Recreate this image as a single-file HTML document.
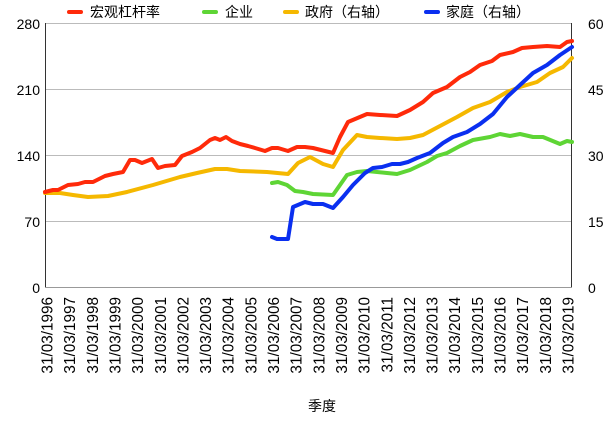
<!DOCTYPE html>
<html><head><meta charset="utf-8"><style>
body{margin:0;background:#fff}
text{font-family:"Liberation Sans","Noto Sans CJK SC",sans-serif;fill:#000}
</style></head><body>
<svg width="607" height="417" xmlns="http://www.w3.org/2000/svg">
<g stroke="#bbb" stroke-width="1">
<line x1="45" y1="23.5" x2="572" y2="23.5"/><line x1="45" y1="89.5" x2="572" y2="89.5"/>
<line x1="45" y1="155.5" x2="572" y2="155.5"/><line x1="45" y1="221.5" x2="572" y2="221.5"/>
</g>
<g stroke="#333" stroke-width="1" fill="none">
<line x1="45.5" y1="23" x2="45.5" y2="287"/><line x1="571.5" y1="23" x2="571.5" y2="287"/>
<line x1="45" y1="287.5" x2="572" y2="287.5" stroke="#999"/>
</g>
<g font-size="14" text-anchor="end">
<text x="40" y="29">280</text><text x="40" y="95">210</text><text x="40" y="161">140</text><text x="40" y="227">70</text><text x="40" y="293">0</text>
</g>
<g font-size="14" text-anchor="start">
<text x="588" y="29">60</text><text x="588" y="95">45</text><text x="588" y="161">30</text><text x="588" y="227">15</text><text x="588" y="293">0</text>
</g>
<g fill="none" stroke-width="4" stroke-linejoin="round" stroke-linecap="round">
<polyline stroke="#f5b800" points="45,193 60,193 73,195 88,197 108,196 127,192 153,185 180,177 197,173 215,169 227,169 240,171 267,172 288,174 298,163 310,157 323,164 333,167 343,150 357,135 367,137 380,138 397,139 410,138 423,135 440,126 457,117 473,108 490,102 507,92 520,87 537,82 550,73 563,67 572,58"/>
<polyline stroke="#5ed535" points="272,183 278,182 287,185 295,191 303,192 313,194 333,195 347,175 357,172 367,171 387,173 397,174 410,170 427,162 437,156 447,153 460,146 473,140 490,137 500,134 510,136 520,134 533,137 543,137 560,144 567,141 572,142"/>
<polyline stroke="#0a2ff0" points="272,237 277,239 288,239 293,207 305,202 313,204 323,204 333,208 343,197 353,185 365,173 373,168 382,167 392,164 400,164 408,162 417,158 430,153 443,143 453,137 467,132 480,124 493,114 507,97 520,85 533,73 547,65 560,55 572,47"/>
<polyline stroke="#ff2a0a" points="45,192 53,190 58,190 68,185 78,184 85,182 93,182 105,176 113,174 123,172 130,160 135,160 142,163 152,159 158,168 165,166 175,165 182,156 192,152 200,148 210,140 215,138 220,140 226,137 232,141 240,144 248,146 255,148 265,151 272,148 278,148 288,151 297,147 305,147 313,148 333,153 340,137 348,122 367,114 380,115 397,116 410,110 423,102 433,93 447,87 460,77 470,72 480,65 492,61 500,55 513,52 522,48 533,47 547,46 560,47 567,42 572,41"/>
</g>
<g font-size="15.3" text-anchor="end">
<text transform="translate(52.5,297) rotate(-90)">31/03/1996</text>
<text transform="translate(75.1,297) rotate(-90)">31/03/1997</text>
<text transform="translate(97.8,297) rotate(-90)">31/03/1998</text>
<text transform="translate(120.5,297) rotate(-90)">31/03/1999</text>
<text transform="translate(143.1,297) rotate(-90)">31/03/2000</text>
<text transform="translate(165.8,297) rotate(-90)">31/03/2001</text>
<text transform="translate(188.5,297) rotate(-90)">31/03/2002</text>
<text transform="translate(211.1,297) rotate(-90)">31/03/2003</text>
<text transform="translate(233.7,297) rotate(-90)">31/03/2004</text>
<text transform="translate(256.4,297) rotate(-90)">31/03/2005</text>
<text transform="translate(279,297) rotate(-90)">31/03/2006</text>
<text transform="translate(301.7,297) rotate(-90)">31/03/2007</text>
<text transform="translate(324.3,297) rotate(-90)">31/03/2008</text>
<text transform="translate(347,297) rotate(-90)">31/03/2009</text>
<text transform="translate(369.6,297) rotate(-90)">31/03/2010</text>
<text transform="translate(392.3,297) rotate(-90)">31/03/2011</text>
<text transform="translate(414.9,297) rotate(-90)">31/03/2012</text>
<text transform="translate(437.6,297) rotate(-90)">31/03/2013</text>
<text transform="translate(460.2,297) rotate(-90)">31/03/2014</text>
<text transform="translate(482.9,297) rotate(-90)">31/03/2015</text>
<text transform="translate(505.5,297) rotate(-90)">31/03/2016</text>
<text transform="translate(528.2,297) rotate(-90)">31/03/2017</text>
<text transform="translate(550.8,297) rotate(-90)">31/03/2018</text>
<text transform="translate(573.5,297) rotate(-90)">31/03/2019</text>
</g>
<text x="322" y="411" font-size="14" text-anchor="middle">季度</text>
<g stroke-width="4" stroke-linecap="round">
<line x1="69" y1="12" x2="81" y2="12" stroke="#ff2a0a"/>
<line x1="204" y1="12" x2="216" y2="12" stroke="#5ed535"/>
<line x1="285" y1="12" x2="297" y2="12" stroke="#f5b800"/>
<line x1="426" y1="12" x2="438" y2="12" stroke="#0a2ff0"/>
</g>
<g font-size="14">
<text x="90" y="17">宏观杠杆率</text>
<text x="225" y="17">企业</text>
<text x="305" y="17">政府（右轴）</text>
<text x="446" y="17">家庭（右轴）</text>
</g>
</svg>
</body></html>
